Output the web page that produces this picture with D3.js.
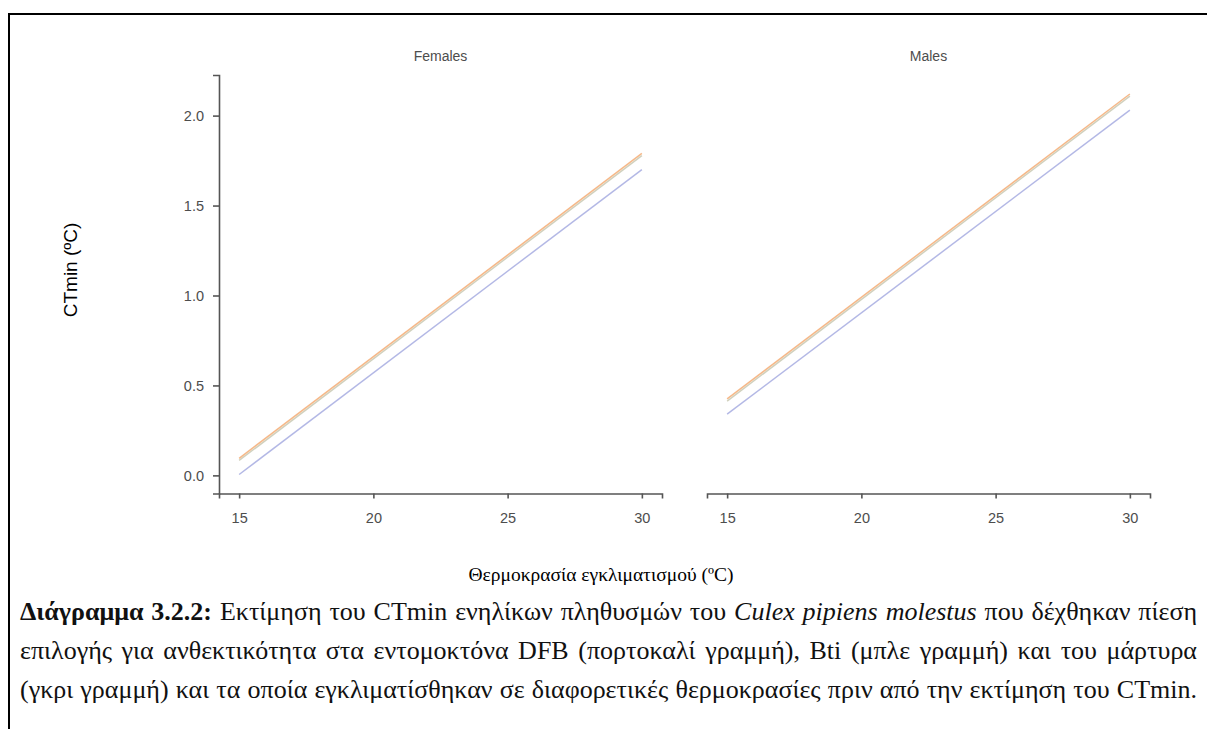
<!DOCTYPE html>
<html>
<head>
<meta charset="utf-8">
<script src="https://cdn.jsdelivr.net/npm/d3@7"></script>
<style>
  html, body { margin: 0; padding: 0; background: #fff; }
  #wrap { position: relative; width: 1207px; height: 729px; overflow: hidden; }
  svg { position: absolute; left: 0; top: 0; }
  .cap { position: absolute; left: 20px; width: 1177px; font-family: "Liberation Serif", "Times New Roman", serif;
         color: #111; text-align: justify; text-align-last: justify; white-space: nowrap; line-height: 30px; }
  .probe { position: absolute; visibility: hidden; white-space: nowrap; font-family: "Liberation Serif", "Times New Roman", serif; }
</style>
</head>
<body>
<div id="wrap"></div>
<script>
// Acclimation temperatures (ºC) at which the fitted lines are evaluated
const temps = [15, 30];
const panels = ["Females", "Males"];
const seriesColors = { DFB: "#f2a66c", Control: "#c4c4ac", Bti: "#a0a6de" };

// Predicted CTmin (ºC) per panel and series, at 15 and 30 ºC
const femalesDFB = [0.095, 1.790];
const femalesControl = [0.083, 1.778];
const femalesBti = [0.005, 1.700];
const malesDFB = [0.425, 2.120];
const malesControl = [0.413, 2.108];
const malesBti = [0.340, 2.030];

const xTicks = [15, 20, 25, 30];
const yTicks = [0, 0.5, 1, 1.5, 2];

const panelData = {
  Females: { DFB: femalesDFB, Control: femalesControl, Bti: femalesBti },
  Males: { DFB: malesDFB, Control: malesControl, Bti: malesBti }
};

const W = 1207, H = 729;
const wrap = d3.select("#wrap");
const svg = wrap.append("svg").attr("width", W).attr("height", H);

// Frame around the figure
svg.append("line").attr("x1", 8).attr("y1", 14).attr("x2", W).attr("y2", 14)
  .attr("stroke", "#000").attr("stroke-width", 2);
svg.append("line").attr("x1", 9).attr("y1", 13).attr("x2", 9).attr("y2", H)
  .attr("stroke", "#000").attr("stroke-width", 2);

// Shared y scale, x scales per facet (5% expansion like ggplot)
const allVals = Object.values(panelData).flatMap(p => Object.values(p).flat());
const yMin = d3.min(allVals), yMax = d3.max(allVals);
const yPad = (yMax - yMin) * 0.05;
const y = d3.scaleLinear().domain([yMin - yPad, yMax + yPad]).range([493.5, 75]);
const xPad = (temps[1] - temps[0]) * 0.05;
const panelRanges = { Females: [219, 662], Males: [707, 1150] };

const axisColor = "#555", textColor = "#4d4d4d";
const sans = "Liberation Sans, Arial, sans-serif";

panels.forEach((name, i) => {
  const [x0, x1] = panelRanges[name];
  const x = d3.scaleLinear().domain([temps[0] - xPad, temps[1] + xPad]).range([x0, x1]);
  const g = svg.append("g");

  // Facet title
  g.append("text").attr("x", (x0 + x1) / 2).attr("y", 61)
    .attr("text-anchor", "middle").attr("font-family", sans)
    .attr("font-size", 14).attr("fill", textColor).text(name);

  // X axis
  const xa = g.append("g").attr("transform", `translate(0,${y.range()[0]})`)
    .call(d3.axisBottom(x).tickValues(xTicks).tickSize(5).tickPadding(14).tickFormat(d3.format("d")));
  xa.select(".domain").attr("stroke", axisColor).attr("stroke-width", 1.6);
  xa.selectAll(".tick line").attr("stroke", axisColor).attr("stroke-width", 1.6);
  xa.selectAll(".tick text").attr("fill", textColor).attr("font-size", 14.5).attr("font-family", sans);

  // Y axis only on the first facet
  if (i === 0) {
    const ya = g.append("g").attr("transform", `translate(${x0},0)`)
      .call(d3.axisLeft(y).tickValues(yTicks).tickSize(6).tickPadding(9).tickFormat(d3.format(".1f")));
    ya.select(".domain").attr("stroke", axisColor).attr("stroke-width", 1.6);
    ya.selectAll(".tick line").attr("stroke", axisColor).attr("stroke-width", 1.6);
    ya.selectAll(".tick text").attr("fill", textColor).attr("font-size", 14.5).attr("font-family", sans);
  }

  // Fitted lines
  const line = d3.line().x(d => x(d.t)).y(d => y(d.v));
  ["Bti", "Control", "DFB"].forEach(s => {
    const pts = temps.map((t, k) => ({ t, v: panelData[name][s][k] }));
    g.append("path").datum(pts).attr("d", line).attr("fill", "none")
      .attr("stroke", seriesColors[s]).attr("stroke-width", 1.5).attr("stroke-opacity", 0.8);
  });
});

// Axis titles
svg.append("text").attr("transform", "translate(77,270) rotate(-90)")
  .attr("text-anchor", "middle").attr("font-family", sans)
  .attr("font-size", 19).attr("fill", "#000").text("CTmin (ºC)");
svg.append("text").attr("x", 601).attr("y", 581)
  .attr("text-anchor", "middle").attr("font-family", "Liberation Serif, Times New Roman, serif")
  .attr("font-size", 19.5).attr("fill", "#000").text("Θερμοκρασία εγκλιματισμού (ºC)");

// Caption, one justified block per line
const capLines = [
  '<b>Διάγραμμα 3.2.2:</b> Εκτίμηση του CTmin ενηλίκων πληθυσμών του <i>Culex pipiens molestus</i> που δέχθηκαν πίεση',
  'επιλογής για ανθεκτικότητα στα εντομοκτόνα DFB (πορτοκαλί γραμμή), Bti (μπλε γραμμή) και του μάρτυρα',
  '(γκρι γραμμή) και τα οποία εγκλιματίσθηκαν σε διαφορετικές θερμοκρασίες πριν από την εκτίμηση του CTmin.'
];
const capWidth = 1177;
// Pick the largest size at which every line still fits the text block
const baseSize = 20;
const sizes = capLines.map(html => {
  const p = wrap.append("span").attr("class", "probe").style("font-size", baseSize + "px").html(html);
  const w = p.node().getBoundingClientRect().width;
  p.remove();
  return baseSize * capWidth / w;
});
const capSize = Math.min(d3.min(sizes), 26);
const capBaselines = [620, 659, 698];
capLines.forEach((html, k) => {
  wrap.append("div").attr("class", "cap")
    .style("font-size", capSize + "px")
    .style("top", (capBaselines[k] - (15 - capSize / 2) - capSize * 0.891 + 0.1 * capSize) + "px")
    .html(html);
});
</script>
</body>
</html>
